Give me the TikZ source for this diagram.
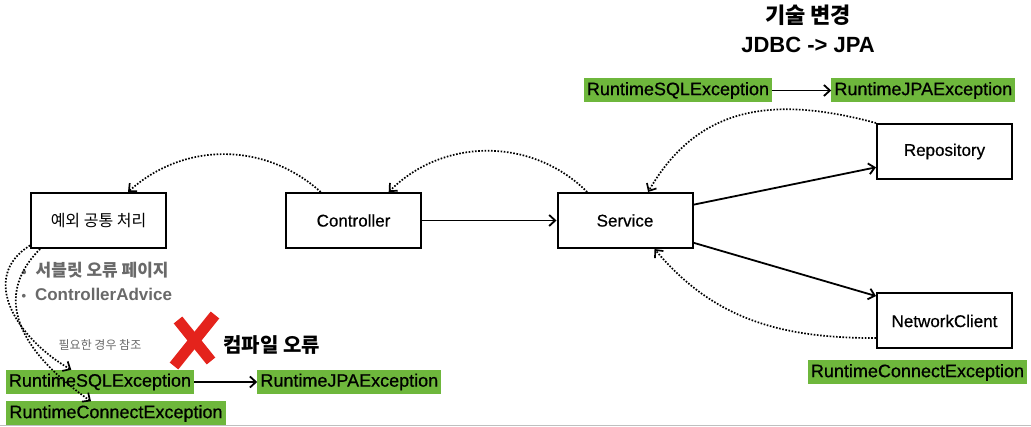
\documentclass[tikz,border=0pt]{standalone}
\usepackage{fontspec}
\setmainfont{Liberation Sans}
\newfontfamily\medfont[FakeBold=0.6]{Liberation Sans}
\newfontfamily\kr{Noto Sans CJK KR}
\definecolor{EXgreen}{RGB}{110, 183, 60}
\definecolor{NOTEgray}{RGB}{105, 105, 105}
\definecolor{XRed}{RGB}{228, 35, 28}
\usetikzlibrary{arrows.meta, positioning}

\begin{document}
\begin{tikzpicture}[x=1pt, y=1pt,
                box/.style={rectangle,
                draw=black,
                line width=2pt,
                minimum width=135pt,
                minimum height=55pt,
                font=\medfont\fontsize{17}{20}\selectfont,
                align=center},
                exbox/.style={rectangle,
                fill=EXgreen,
                inner xsep=3pt,
                inner ysep=0pt,
                minimum height=24pt,
                font=\medfont\fontsize{18}{20}\selectfont},
                note/.style={text=NOTEgray, font=\kr\bfseries\fontsize{17}{20}\selectfont},
                arr/.style={-{Straight Barb[length=6pt,width=11pt]}, black, line width=1.8pt},
                dotarr/.style={arr, line width=1.7pt, dash pattern=on 1.6pt off 1.6pt},
                node distance=8pt]
                \useasboundingbox (0,0) rectangle (1031,-427);
                % layers
                \node[box] (exc) at (98.5,-220.5) {\kr\fontsize{16}{20}\selectfont 예외 공통 처리};
                \node[box] (ctrl) at (353.5,-220.5) {Controller};
                \node[box] (svc) at (625,-220.5) {Service};
                \node[box] (repo) at (944.5,-151.5) {Repository};
                \node[box] (net) at (944.5,-321) {NetworkClient};
                % technology change
                \node[font=\kr\bfseries\fontsize{22}{24}\selectfont] (tech) at (808,-15) {기술 변경};
                \node[font=\bfseries\fontsize{22}{24}\selectfont] (jdbc) at (808,-45) {JDBC -> JPA};
                \node[exbox] (sqltop) at (678,-90.5) {RuntimeSQLException};
                \node[exbox, right=59pt of sqltop] (jpatop) {RuntimeJPAException};
                \node[exbox] (connright) at (917.5,-372.5) {RuntimeConnectException};
                % common handling
                \node[note, anchor=west] (bulone) at (18,-270) {{\fontsize{13}{15}\selectfont•}\hspace{9pt}서블릿 오류 페이지};
                \node[note, anchor=west, font=\bfseries\fontsize{17}{20}\selectfont] (bultwo) at (18,-294) {{\fontsize{13}{15}\selectfont•}\hspace{9pt}ControllerAdvice};
                \node[text=NOTEgray, font=\kr\fontsize{12}{14}\selectfont] (refnote) at (100,-345) {필요한 경우 참조};
                \node[exbox] (sqlbot) at (100,-382) {RuntimeSQLException};
                \node[exbox, right=63pt of sqlbot] (jpabot) {RuntimeJPAException};
                \node[exbox] (connbot) at (116,-413.5) {RuntimeConnectException};
                \node[font=\kr\bfseries\fontsize{20}{22}\selectfont, anchor=west] (compile) at (220,-345) {컴파일 오류};
                % red cross
                \draw[XRed, line width=11pt] (215,-315) -- (174,-366);
                \draw[XRed, line width=11pt] (178,-320) -- (211,-361);
                \draw[black!25, line width=0.8pt] (0,-425.5) -- (1031,-425.5);
                % calls
                \draw[arr] (ctrl)--(svc);
                \draw[arr] (svc.13)--(repo.193);
                \draw[arr] (svc.-18)--(net.160);
                \draw[arr] (sqltop)--(jpatop);
                \draw[arr] (sqlbot)--(jpabot);
                % exceptions thrown back
                \draw[dotarr] (repo.north west) to[out=165, in=60, looseness=1.1] (svc.51);
                \draw[dotarr] (net.194) to[out=180, in=-50] (svc.-44);
                \draw[dotarr] (svc.143) to[bend right=45] (ctrl.39);
                \draw[dotarr] (ctrl.139) to[bend right=42] (exc.44);
                \draw[dotarr] (exc.200) to[out=212, in=150, looseness=1.2] (sqlbot.157);
                \draw[dotarr] (exc.206) to[out=225, in=145, looseness=1.2] (connbot.154);
            \end{tikzpicture}
\end{document}
